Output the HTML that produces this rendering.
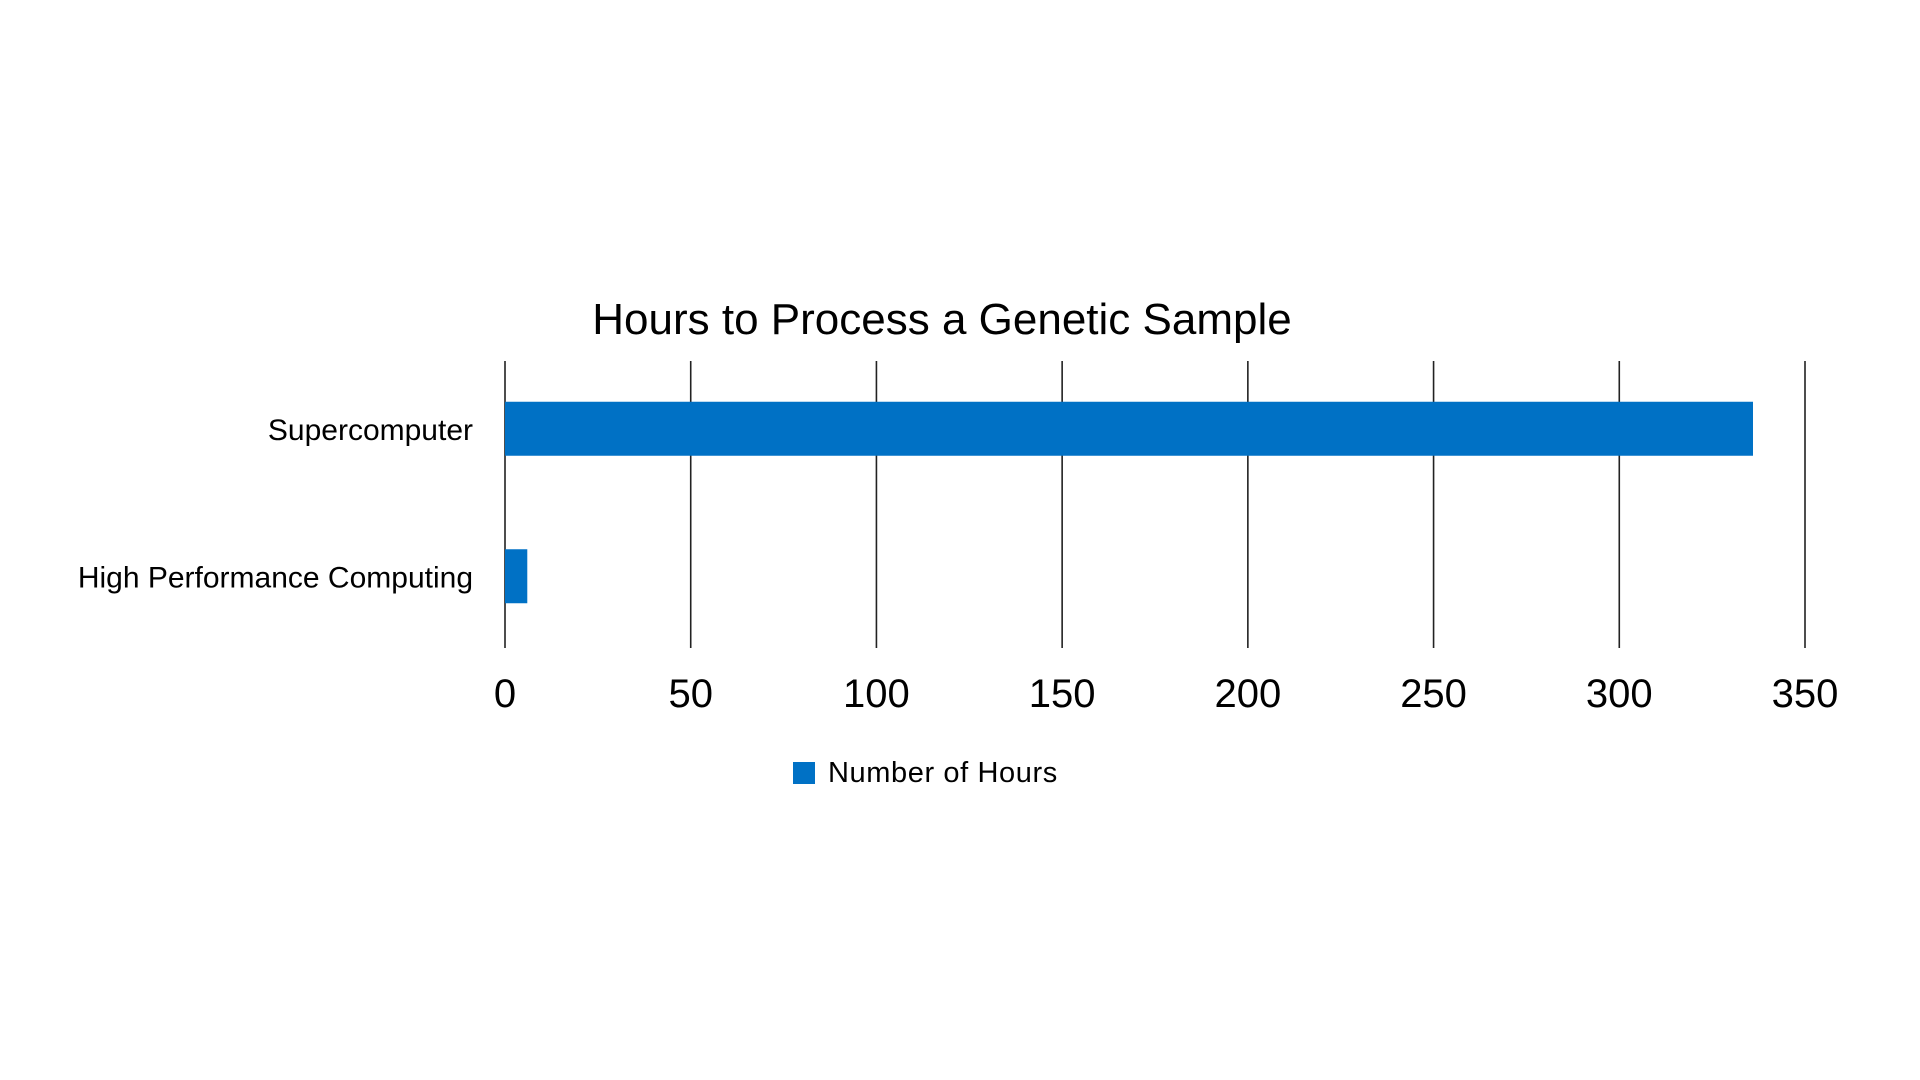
<!DOCTYPE html>
<html><head><meta charset="utf-8"><style>
html,body{margin:0;padding:0;background:#fff;}
svg{display:block;font-family:"Liberation Sans",sans-serif;}
</style></head><body>
<svg id="chart" width="1920" height="1080" viewBox="0 0 1920 1080">
<text x="942" y="334" font-size="44" text-anchor="middle" fill="#000">Hours to Process a Genetic Sample</text>
<g id="grid"></g>
<g id="bars"></g>
<g id="xticks"></g>
<g id="ylabels"></g>
<g>
<rect x="793" y="762" width="22" height="22" fill="#0071c5"/>
<text x="828" y="782" font-size="29" letter-spacing="0.6" fill="#000">Number of Hours</text>
</g>
</svg>
<script>
const categories = ["Supercomputer", "High Performance Computing"];
const values = [336, 6];
const ticks = [0, 50, 100, 150, 200, 250, 300, 350];
const tickLabels = ["0", "50", "100", "150", "200", "250", "300", "350"];

const NS = "http://www.w3.org/2000/svg";
const plotX0 = 505, plotX1 = 1805, vmax = 350;
const plotTop = 361, plotBottom = 648;
function xScale(v){ return plotX0 + (v / vmax) * (plotX1 - plotX0); }
const band = (plotBottom - plotTop) / categories.length;
function yBand(i){ return plotTop + band * i; }
const barH = 54;

function mk(tag, attrs, parent){
  const el = document.createElementNS(NS, tag);
  for (const k in attrs) el.setAttribute(k, attrs[k]);
  parent.appendChild(el);
  return el;
}
const grid = document.getElementById('grid');
const xt = document.getElementById('xticks');
ticks.forEach((t, i) => {
  const l = mk('line', {x1: xScale(t), x2: xScale(t), y1: plotTop, y2: plotBottom, stroke: '#222', 'stroke-width': 1.6}, grid);
  
  
  const tx = mk('text', {x: xScale(t), y: 707, 'font-size': 40, 'text-anchor': 'middle', fill: '#000'}, xt);
  tx.textContent = tickLabels[i];
  
  
});
const bars = document.getElementById('bars');
const yl = document.getElementById('ylabels');
categories.forEach((c, i) => {
  const cy = yBand(i) + band / 2 - 4 + i * 4;
  const r = mk('rect', {x: xScale(0), y: cy - barH / 2, width: xScale(values[i]) - xScale(0), height: barH, fill: '#0071c5'}, bars);
  
  
  const t = mk('text', {x: 473, y: cy + 11, 'font-size': 30, 'text-anchor': 'end', fill: '#000'}, yl);
  t.textContent = c;
  
  
});
</script>
</body></html>
